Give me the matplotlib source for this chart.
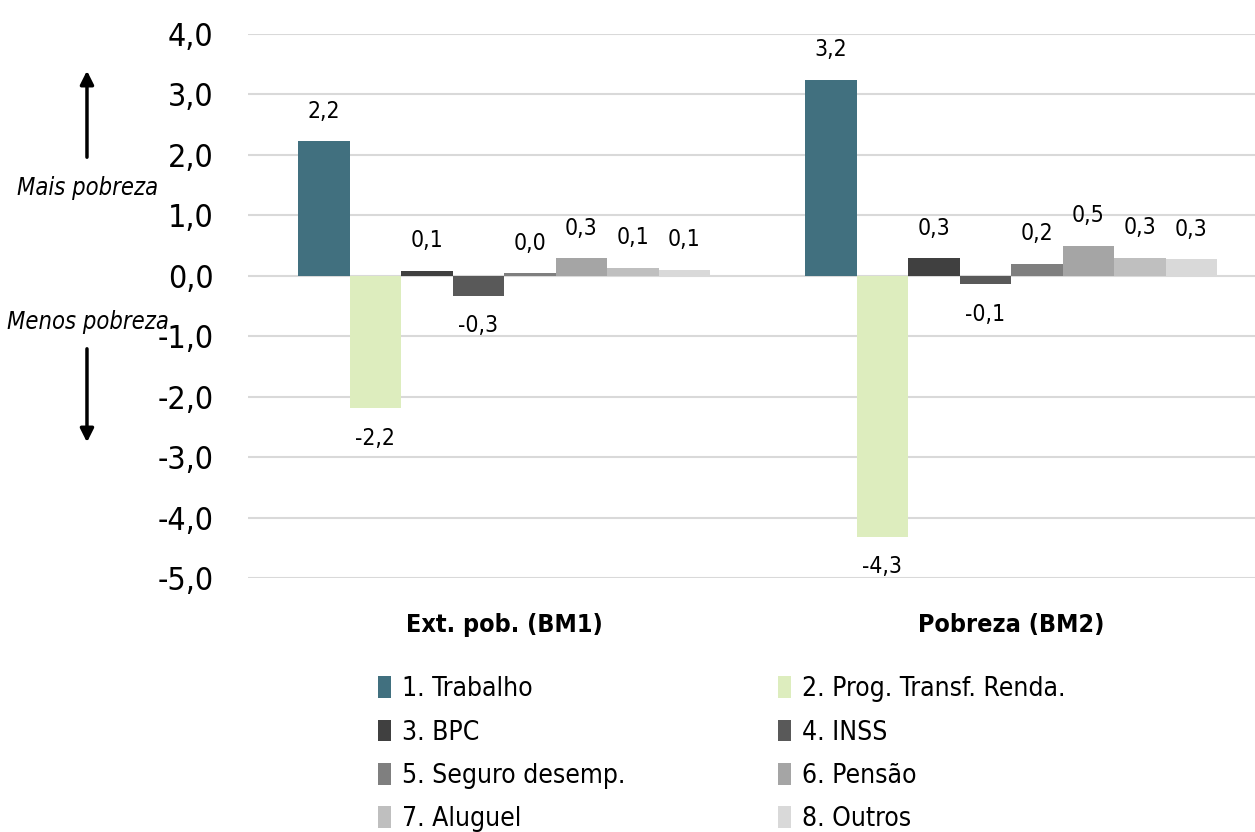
import matplotlib.pyplot as plt
from matplotlib.patches import Patch
import numpy as np

plt.rcParams['font.family'] = ['DejaVu Sans Condensed', 'Liberation Sans Narrow', 'DejaVu Sans']
plt.rcParams['font.stretch'] = 'condensed'

# data
groups = ['Ext. pob. (BM1)', 'Pobreza (BM2)']
series = ['1. Trabalho', '2. Prog. Transf. Renda.', '3. BPC', '4. INSS',
          '5. Seguro desemp.', '6. Pensão', '7. Aluguel', '8. Outros']
bm1 = [2.23, -2.19, 0.08, -0.33, 0.04, 0.29, 0.13, 0.10]
bm2 = [3.24, -4.32, 0.29, -0.14, 0.20, 0.50, 0.30, 0.27]
colors = ['#41707f', '#ddedbe', '#404040', '#595959',
          '#7f7f7f', '#a5a5a5', '#bfbfbf', '#d9d9d9']
yticks = [4, 3, 2, 1, 0, -1, -2, -3, -4, -5]

fig = plt.figure(figsize=(12.55, 8.32), dpi=100)
ax = fig.add_axes([0.1976, 0.3053, 0.8024, 0.6538])

w = 0.1016
x = np.arange(len(groups))
vals = np.array([bm1, bm2])
for i, name in enumerate(series):
    xs = x + (i - 3.5) * w
    ax.bar(xs, vals[:, i], width=w, color=colors[i], zorder=3)
    for xx, v in zip(xs, vals[:, i]):
        off = 21.6 if v >= 0 else -21.6
        ax.annotate(f"{v:.1f}".replace('.', ','), (xx, v),
                    xytext=(0, off), textcoords='offset points',
                    ha='center', va='center', fontsize=16.5)

ax.set_ylim(-5, 4)
ax.set_xlim(-0.505, 1.481)
ax.set_yticks(yticks)
ax.set_yticklabels([f"{t:.1f}".replace('.', ',') for t in yticks], fontsize=23)
ax.set_xticks(x)
ax.set_xticklabels(groups, fontsize=18, fontweight='bold')
ax.tick_params(axis='y', length=0, pad=25)
ax.tick_params(axis='x', length=0, pad=25)
ax.grid(axis='y', color='#d9d9d9', lw=1.5, zorder=0)
for s in ax.spines.values():
    s.set_visible(False)

# arrows and side notes
fig.text(0.0701, 0.774, 'Mais pobreza', style='italic', fontsize=17,
         ha='center', va='center')
fig.text(0.0701, 0.613, 'Menos pobreza', style='italic', fontsize=17,
         ha='center', va='center')
ax.annotate('', xy=(0.0693, 0.9183), xytext=(0.0693, 0.8077),
            xycoords='figure fraction', textcoords='figure fraction',
            arrowprops=dict(arrowstyle='-|>', color='black', lw=2.5,
                            mutation_scale=20))
ax.annotate('', xy=(0.0693, 0.4651), xytext=(0.0693, 0.5841),
            xycoords='figure fraction', textcoords='figure fraction',
            arrowprops=dict(arrowstyle='-|>', color='black', lw=2.5,
                            mutation_scale=20))

# legend, row-major order
handles = [Patch(facecolor=c, label=s) for c, s in zip(colors, series)]
order = [0, 2, 4, 6, 1, 3, 5, 7]
fig.legend([handles[k] for k in order], [series[k] for k in order],
           ncol=2, loc='upper left', bbox_to_anchor=(0.2905, 0.203),
           frameon=False, fontsize=19, handlelength=0.5, handleheight=0.9,
           handletextpad=0.4, columnspacing=5.8, labelspacing=0.65,
           borderpad=0)

fig.savefig('out.png', dpi=100)
